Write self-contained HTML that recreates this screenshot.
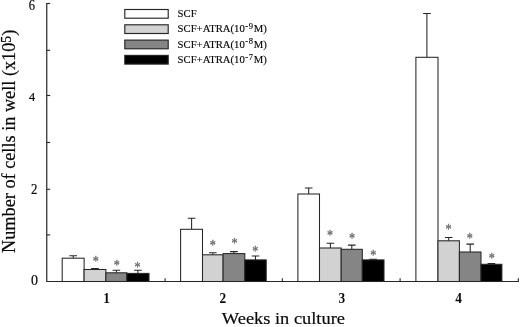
<!DOCTYPE html>
<html><head><meta charset="utf-8"><title>Chart</title>
<style>html,body{margin:0;padding:0;background:#fff}svg{display:block}text{font-family:"Liberation Serif","Times New Roman",serif;fill:#0a0a0a}</style></head><body>
<svg width="520" height="327" viewBox="0 0 520 327">
<rect width="520" height="327" fill="#fff"/>
<path d="M73.2 258.2V255.7M69.4 255.7H77.0" stroke="#262626" stroke-width="1.05" fill="none"/>
<rect x="62.2" y="258.2" width="21.9" height="23.3" fill="#ffffff" stroke="#262626" stroke-width="1.05"/>
<path d="M95.0 269.5V268.6M91.2 268.6H98.8" stroke="#262626" stroke-width="1.05" fill="none"/>
<rect x="84.1" y="269.5" width="21.8" height="12.0" fill="#d2d2d2" stroke="#262626" stroke-width="1.05"/>
<path d="M116.4 272.8V270.3M112.6 270.3H120.2" stroke="#262626" stroke-width="1.05" fill="none"/>
<rect x="105.9" y="272.8" width="21.0" height="8.7" fill="#858585" stroke="#262626" stroke-width="1.05"/>
<path d="M137.9 273.4V270.3M134.1 270.3H141.8" stroke="#262626" stroke-width="1.05" fill="none"/>
<rect x="126.9" y="273.4" width="22.1" height="8.1" fill="#000000" stroke="#262626" stroke-width="1.05"/>
<path d="M191.6 229.3V218.3M187.8 218.3H195.4" stroke="#262626" stroke-width="1.05" fill="none"/>
<rect x="180.6" y="229.3" width="21.9" height="52.2" fill="#ffffff" stroke="#262626" stroke-width="1.05"/>
<path d="M212.8 254.8V252.7M209.0 252.7H216.6" stroke="#262626" stroke-width="1.05" fill="none"/>
<rect x="202.5" y="254.8" width="20.6" height="26.7" fill="#d2d2d2" stroke="#262626" stroke-width="1.05"/>
<path d="M233.9 253.6V251.6M230.1 251.6H237.8" stroke="#262626" stroke-width="1.05" fill="none"/>
<rect x="223.1" y="253.6" width="21.7" height="27.9" fill="#858585" stroke="#262626" stroke-width="1.05"/>
<path d="M255.5 259.9V256.0M251.7 256.0H259.3" stroke="#262626" stroke-width="1.05" fill="none"/>
<rect x="244.8" y="259.9" width="21.4" height="21.6" fill="#000000" stroke="#262626" stroke-width="1.05"/>
<path d="M308.7 194.0V188.0M304.9 188.0H312.5" stroke="#262626" stroke-width="1.05" fill="none"/>
<rect x="297.9" y="194.0" width="21.6" height="87.5" fill="#ffffff" stroke="#262626" stroke-width="1.05"/>
<path d="M330.4 248.0V243.3M326.6 243.3H334.2" stroke="#262626" stroke-width="1.05" fill="none"/>
<rect x="319.5" y="248.0" width="21.7" height="33.5" fill="#d2d2d2" stroke="#262626" stroke-width="1.05"/>
<path d="M351.8 249.3V245.1M347.9 245.1H355.6" stroke="#262626" stroke-width="1.05" fill="none"/>
<rect x="341.2" y="249.3" width="21.1" height="32.2" fill="#858585" stroke="#262626" stroke-width="1.05"/>
<path d="M373.1 259.9V259.2M369.3 259.2H376.9" stroke="#262626" stroke-width="1.05" fill="none"/>
<rect x="362.3" y="259.9" width="21.7" height="21.6" fill="#000000" stroke="#262626" stroke-width="1.05"/>
<path d="M426.9 57.3V13.4M423.1 13.4H430.8" stroke="#262626" stroke-width="1.05" fill="none"/>
<rect x="415.9" y="57.3" width="22.1" height="224.2" fill="#ffffff" stroke="#262626" stroke-width="1.05"/>
<path d="M448.7 240.8V237.5M444.9 237.5H452.5" stroke="#262626" stroke-width="1.05" fill="none"/>
<rect x="438.0" y="240.8" width="21.4" height="40.7" fill="#d2d2d2" stroke="#262626" stroke-width="1.05"/>
<path d="M470.2 252.0V244.1M466.4 244.1H474.0" stroke="#262626" stroke-width="1.05" fill="none"/>
<rect x="459.4" y="252.0" width="21.6" height="29.5" fill="#858585" stroke="#262626" stroke-width="1.05"/>
<path d="M491.4 264.3V263.5M487.6 263.5H495.2" stroke="#262626" stroke-width="1.05" fill="none"/>
<rect x="481.0" y="264.3" width="20.9" height="17.2" fill="#000000" stroke="#262626" stroke-width="1.05"/>
<path d="M46.75 3V281.5H518.8" stroke="#262626" stroke-width="1.2" fill="none" stroke-linejoin="miter"/>
<path d="M46.75 234.9H50.2" stroke="#262626" stroke-width="1.1"/>
<path d="M46.75 189.3H50.2" stroke="#262626" stroke-width="1.1"/>
<path d="M46.75 142.5H50.2" stroke="#262626" stroke-width="1.1"/>
<path d="M46.75 95.5H50.2" stroke="#262626" stroke-width="1.1"/>
<path d="M46.75 50.3H50.2" stroke="#262626" stroke-width="1.1"/>
<path d="M46.75 3.5H50.2" stroke="#262626" stroke-width="1.1"/>
<path d="M165.1 281.5V278.3" stroke="#262626" stroke-width="1.1"/>
<path d="M282.3 281.5V278.3" stroke="#262626" stroke-width="1.1"/>
<path d="M400.1 281.5V278.3" stroke="#262626" stroke-width="1.1"/>
<path d="M518.3 281.5V278.3" stroke="#262626" stroke-width="1.1"/>
<text transform="translate(38.1 285.4) scale(1.0 1)" font-size="14.0" text-anchor="end" stroke="#0a0a0a" stroke-width="0.2">0</text>
<text transform="translate(37.4 193.5) scale(0.93 1)" font-size="13.8" text-anchor="end" stroke="#0a0a0a" stroke-width="0.2">2</text>
<text transform="translate(35.1 101.2) scale(0.93 1)" font-size="13.3" text-anchor="end" stroke="#0a0a0a" stroke-width="0.2">4</text>
<text transform="translate(35.1 10.1) scale(0.9 1)" font-size="13.9" text-anchor="end" stroke="#0a0a0a" stroke-width="0.2">6</text>
<text transform="translate(106.5 302.7) scale(0.92 1)" font-size="14.5" font-weight="bold" text-anchor="middle">1</text>
<text transform="translate(222.9 302.7) scale(0.92 1)" font-size="14.5" font-weight="bold" text-anchor="middle">2</text>
<text transform="translate(341.9 302.7) scale(0.92 1)" font-size="14.5" font-weight="bold" text-anchor="middle">3</text>
<text transform="translate(458.5 302.7) scale(0.92 1)" font-size="14.5" font-weight="bold" text-anchor="middle">4</text>
<text transform="translate(283.4 324.4) scale(1.022 0.98)" font-size="18" text-anchor="middle" stroke="#0a0a0a" stroke-width="0.2">Weeks in culture</text>
<text transform="translate(15.4 141.35) rotate(-90) scale(1.015 1.02)" font-size="18" text-anchor="middle" stroke="#0a0a0a" stroke-width="0.2">Number of cells in well (x10<tspan font-size="13.5" dy="-4.8">5</tspan><tspan dy="4.8">)</tspan></text>
<rect x="124.8" y="9.5" width="43.4" height="8.7" fill="#ffffff" stroke="#262626" stroke-width="1.15"/>
<text transform="translate(177.6 16.7) scale(1.07 1)" font-size="10" stroke="#0a0a0a" stroke-width="0.15">SCF</text>
<rect x="124.8" y="24.8" width="43.4" height="8.7" fill="#d2d2d2" stroke="#262626" stroke-width="1.15"/>
<text transform="translate(177.6 32.3) scale(1.07 1)" font-size="10" stroke="#0a0a0a" stroke-width="0.15">SCF+ATRA(10<tspan font-size="8" dy="-3.8" dx="0.5" letter-spacing="0.5">-9</tspan><tspan dy="3.8" dx="0.3">M)</tspan></text>
<rect x="124.8" y="40.1" width="43.4" height="8.7" fill="#858585" stroke="#262626" stroke-width="1.15"/>
<text transform="translate(177.6 47.9) scale(1.07 1)" font-size="10" stroke="#0a0a0a" stroke-width="0.15">SCF+ATRA(10<tspan font-size="8" dy="-3.8" dx="0.5" letter-spacing="0.5">-8</tspan><tspan dy="3.8" dx="0.3">M)</tspan></text>
<rect x="124.8" y="55.4" width="43.4" height="8.7" fill="#000000" stroke="#262626" stroke-width="1.15"/>
<text transform="translate(177.6 63.4) scale(1.07 1)" font-size="10" stroke="#0a0a0a" stroke-width="0.15">SCF+ATRA(10<tspan font-size="8" dy="-3.8" dx="0.5" letter-spacing="0.5">-7</tspan><tspan dy="3.8" dx="0.3">M)</tspan></text>
<text transform="translate(95.7 265.5) scale(0.9 1.05)" font-size="13.5" text-anchor="middle" style="fill:#606060;stroke:#707070;stroke-width:0.3">*</text>
<text transform="translate(116.9 270.0) scale(0.9 1.05)" font-size="13.5" text-anchor="middle" style="fill:#606060;stroke:#707070;stroke-width:0.3">*</text>
<text transform="translate(137.5 271.6) scale(0.9 1.05)" font-size="13.5" text-anchor="middle" style="fill:#606060;stroke:#707070;stroke-width:0.3">*</text>
<text transform="translate(212.8 249.9) scale(0.9 1.05)" font-size="13.5" text-anchor="middle" style="fill:#606060;stroke:#707070;stroke-width:0.3">*</text>
<text transform="translate(234.5 248.4) scale(0.9 1.05)" font-size="13.5" text-anchor="middle" style="fill:#606060;stroke:#707070;stroke-width:0.3">*</text>
<text transform="translate(255.4 256.2) scale(0.9 1.05)" font-size="13.5" text-anchor="middle" style="fill:#606060;stroke:#707070;stroke-width:0.3">*</text>
<text transform="translate(330.1 239.9) scale(0.9 1.05)" font-size="13.5" text-anchor="middle" style="fill:#606060;stroke:#707070;stroke-width:0.3">*</text>
<text transform="translate(352.1 243.1) scale(0.9 1.05)" font-size="13.5" text-anchor="middle" style="fill:#606060;stroke:#707070;stroke-width:0.3">*</text>
<text transform="translate(373.4 259.5) scale(0.9 1.05)" font-size="13.5" text-anchor="middle" style="fill:#606060;stroke:#707070;stroke-width:0.3">*</text>
<text transform="translate(448.6 234.2) scale(0.9 1.05)" font-size="13.5" text-anchor="middle" style="fill:#606060;stroke:#707070;stroke-width:0.3">*</text>
<text transform="translate(469.7 243.4) scale(0.9 1.05)" font-size="13.5" text-anchor="middle" style="fill:#606060;stroke:#707070;stroke-width:0.3">*</text>
<text transform="translate(491.8 263.3) scale(0.9 1.05)" font-size="13.5" text-anchor="middle" style="fill:#606060;stroke:#707070;stroke-width:0.3">*</text>
</svg></body></html>
